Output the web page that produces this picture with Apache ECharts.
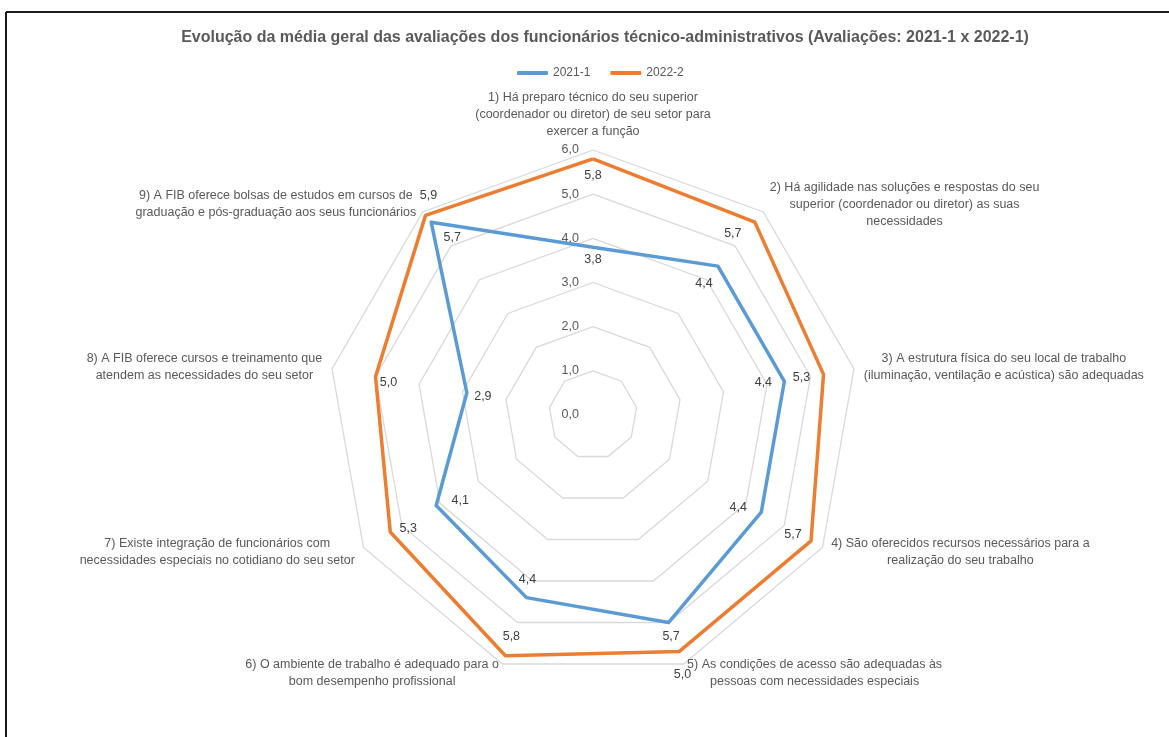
<!DOCTYPE html>
<html>
<head>
<meta charset="utf-8">
<title>Evolução da média geral</title>
<script src="https://cdn.jsdelivr.net/npm/echarts@6/dist/echarts.min.js"></script>
<style>
  html, body { margin: 0; padding: 0; background: #fff; }
  #chart { width: 1169px; height: 737px; }
</style>
</head>
<body>
<div id="chart"></div>
<script>
// perguntas, na ordem do gráfico (sentido horário a partir do topo)
const categories = [
  "1) Há preparo técnico do seu superior\n(coordenador ou diretor) de seu setor para\nexercer a função",
  "2) Há agilidade nas soluções e respostas do seu\nsuperior (coordenador ou diretor) as suas\nnecessidades",
  "3) A estrutura física do seu local de trabalho\n(iluminação, ventilação e acústica) são adequadas",
  "4) São oferecidos recursos necessários para a\nrealização do seu trabalho",
  "5) As condições de acesso são adequadas às\npessoas com necessidades especiais",
  "6) O ambiente de trabalho é adequado para o\nbom desempenho profissional",
  "7) Existe integração de funcionários com\nnecessidades especiais no cotidiano do seu setor",
  "8) A FIB oferece cursos e treinamento que\natendem as necessidades do seu setor",
  "9) A FIB oferece bolsas de estudos em cursos de\ngraduação e pós-graduação aos seus funcionários"
];
const seriesNames = ["2021-1", "2022-2"];
const values2021 = [3.8, 4.4, 4.4, 4.4, 5.0, 4.4, 4.1, 2.9, 5.7];
const values2022 = [5.8, 5.7, 5.3, 5.7, 5.7, 5.8, 5.3, 5.0, 5.9];
const axisMin = 0;
const axisMax = 6;
const axisSplits = 6;

const colors = ["#5B9BD5", "#ED7D31"];
const gray = "#595959";
// deslocamento dos rótulos de dados (px), como no Excel
const labelOffsets = [
  [[0, 12], [-14, 17], [-21, 1], [-23, -5], [14, 52], [1, -18], [24, -5], [16, 4], [21, 15]],
  [[0, 17], [-22, 11], [-22, 3], [-18, -6], [-8, -15], [6, -19], [18, -3], [13, 6], [3, -20]]
];

// echarts desenha o radar no sentido anti-horário: reordena
const order = [0, 8, 7, 6, 5, 4, 3, 2, 1];
const pick = (arr) => order.map((i) => arr[i]);
const fmt = (v) => Number(v).toFixed(1).replace(".", ",");

const indicators = pick(categories).map((name, i) => {
  const ind = { name: name, min: axisMin, max: axisMax };
  if (i === 0) {
    // só o eixo 1 mostra a escala
    ind.axisLabel = {
      show: true,
      color: gray,
      fontSize: 12.5,
      margin: 14,
      formatter: fmt,
    };
  }
  return ind;
});

const allValues = [values2021, values2022];

const mainItems = allValues.map((vals, s) => ({
  name: seriesNames[s],
  value: pick(vals),
  symbol: "none",
  itemStyle: { color: colors[s] },
  lineStyle: { color: colors[s], width: 3.5 },
  label: { show: false },
}));

// um item invisível por ponto, só para posicionar cada rótulo
const labelItems = [];
allValues.forEach((vals, s) => {
  vals.forEach((v, j) => {
    const arr = vals.map((x, k) => (k === j ? x : 0));
    labelItems.push({
      name: "",
      value: pick(arr),
      symbol: "circle",
      symbolSize: 0,
      itemStyle: { color: colors[s] },
      lineStyle: { opacity: 0 },
      label: {
        show: true,
        position: "inside",
        offset: labelOffsets[s][j],
        color: "#404040",
        fontSize: 12.5,
        formatter: (p) => (p.value ? fmt(p.value) : ""),
      },
    });
  });
});

const chart = echarts.init(document.getElementById("chart"), null, { renderer: "canvas" });

const option = {
  animation: false,
  textStyle: { fontFamily: "Liberation Sans" },
  title: {
    text: "Evolução da média geral das avaliações dos funcionários técnico-administrativos (Avaliações: 2021-1 x 2022-1)",
    left: 600,
    textAlign: "center",
    top: 25,
    textStyle: { fontSize: 16, fontWeight: "bold", color: gray, fontFamily: "Liberation Sans" },
  },
  legend: {
    data: seriesNames,
    top: 62,
    left: 512,
    icon: "roundRect",
    itemWidth: 31,
    itemHeight: 4,
    itemGap: 20,
    textStyle: { color: gray, fontSize: 12 },
  },
  radar: {
    center: [593, 415],
    radius: 265,
    startAngle: 90,
    shape: "polygon",
    splitNumber: axisSplits,
    indicator: indicators,
    nameGap: 10,
    axisName: {
      color: gray,
      fontSize: 12.5,
      formatter: (name) => name.split("\n").map((l) => "{c|" + l + "}").join("\n"),
      rich: { c: { align: "center", color: gray, fontSize: 12.5, lineHeight: 17 } },
    },
    axisLine: { show: false },
    axisTick: { show: false },
    axisLabel: { show: false },
    splitArea: { show: false },
    splitLine: { lineStyle: { color: "#D9D9D9", width: 1.3 } },
  },
  series: [
    {
      type: "radar",
      silent: true,
      data: mainItems.concat(labelItems),
    },
  ],
  graphic: [
    { type: "line", shape: { x1: 6, y1: 12, x2: 1169, y2: 12 }, style: { stroke: "#1a1a1a", lineWidth: 2 } },
    { type: "line", shape: { x1: 6, y1: 12, x2: 6, y2: 737 }, style: { stroke: "#1a1a1a", lineWidth: 2 } },
  ],
};

chart.setOption(option);
window.addEventListener("resize", () => chart.resize());
</script>
</body>
</html>
